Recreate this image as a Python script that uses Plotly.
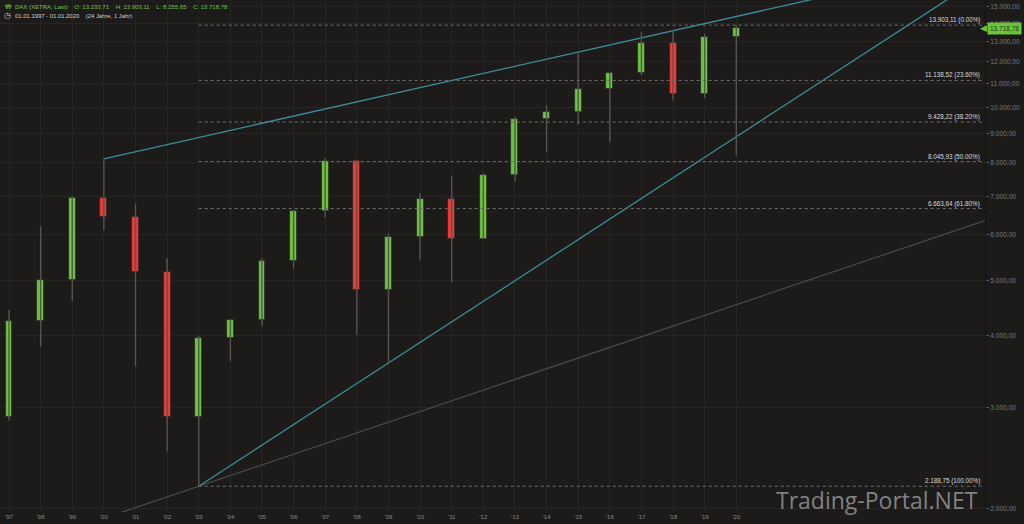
import math
import plotly.graph_objects as go

# ---------------- data ----------------
years = list(range(1997, 2021))
year_labels = ["'97", "'98", "'99", "'00", "'01", "'02", "'03", "'04", "'05", "'06", "'07", "'08",
               "'09", "'10", "'11", "'12", "'13", "'14", "'15", "'16", "'17", "'18", "'19", "'20"]
opens = [2888.69, 4249.69, 5002.39, 6958.14, 6433.61, 5160.10, 2892.63, 3965.16, 4256.08, 5408.26,
         6596.92, 8067.32, 4810.20, 5957.43, 6914.19, 5898.35, 7612.39, 9552.16, 9805.55, 10743.01,
         11481.06, 12917.64, 10558.96, 13233.71]
highs = [4438.93, 6217.83, 6992.00, 8136.16, 6795.14, 5467.31, 3996.00, 4272.00, 5458.00, 6629.00,
         8151.57, 8100.64, 6026.69, 7087.84, 7600.41, 7672.10, 9619.82, 10087.00, 12390.75, 11481.00,
         13525.56, 13596.89, 13425.00, 13903.11]
lows = [2848.00, 3833.71, 4600.00, 6110.00, 3539.18, 2519.30, 2188.75, 3618.00, 4157.00, 5243.00,
        6437.00, 4014.60, 3588.89, 5434.34, 4965.80, 5900.00, 7418.00, 8354.00, 9325.00, 8699.00,
        11384.00, 10279.00, 10386.00, 8255.65]
closes = [4249.69, 5002.39, 6958.14, 6433.61, 5160.10, 2892.63, 3965.16, 4256.08, 5408.26, 6596.92,
          8067.32, 4810.20, 5957.43, 6914.19, 5898.35, 7612.39, 9552.16, 9805.55, 10743.01, 11481.06,
          12917.64, 10558.96, 13249.01, 13718.78]

fib_levels = [13903.11, 11138.52, 9428.22, 8045.93, 6663.64, 2188.75]
fib_labels = ["13.903,11 (0.00%)", "11.138,52 (23.60%)", "9.428,22 (38.20%)",
              "8.045,93 (50.00%)", "6.663,64 (61.80%)", "2.188,75 (100.00%)"]
fib_start_year = 2003

# trend lines: two anchor points each (year, value)
upper_trend = [(2000, 8136.16), (2018, 13596.89)]
lower_trend = [(2003, 2188.75), (2009, 3588.89)]
gray_trend = [(2003, 2188.75), (2027.865, 6350.0)]

ytick_vals = [2000, 3000, 4000, 5000, 6000, 7000, 8000, 9000, 10000, 11000, 12000, 13000, 14000, 15000]
ytick_text = ["2.000,00", "3.000,00", "4.000,00", "5.000,00", "6.000,00", "7.000,00", "8.000,00",
              "9.000,00", "10.000,00", "11.000,00", "12.000,00", "13.000,00", "14.000,00", "15.000,00"]

GAP = "&nbsp;" * 4
header_line1 = GAP.join(["DAX (XETRA, Last)", "O: 13.233,71", "H: 13.903,11", "L: 8.255,65", "C: 13.718,78"])
header_line2 = "01.01.1997 - 01.01.2020&nbsp;&nbsp;&nbsp;&nbsp;(24 Jahre, 1 Jahr)"

last_price = 13718.78
last_label = "13.718,78"

X_MIN, X_MAX = 1996.715, 2027.865
Y_MIN, Y_MAX = 1974.0, 15378.0

BG = "#1c1b1a"
GREEN = "#6cc43a"
RED = "#ef3b36"
WICK = "#555555"
CYAN = "#3d8c9c"
GRID = "#262524"
SANS = "Liberation Sans"

fig = go.Figure()


def extend(p, xa, xb):
    (x0, v0), (x1, v1) = p
    s = (math.log10(v1) - math.log10(v0)) / (x1 - x0)
    return [xa, xb], [10 ** (math.log10(v0) + s * (xa - x0)), 10 ** (math.log10(v0) + s * (xb - x0))]


gx, gy = extend(gray_trend, X_MIN, X_MAX)
fig.add_trace(go.Scatter(x=gx, y=gy, mode="lines", line=dict(color="#4a4a4a", width=1.2),
                         hoverinfo="skip", showlegend=False))
ux, uy = extend(upper_trend, upper_trend[0][0], X_MAX)
fig.add_trace(go.Scatter(x=ux, y=uy, mode="lines", line=dict(color=CYAN, width=1.3),
                         hoverinfo="skip", showlegend=False))
lx, ly = extend(lower_trend, lower_trend[0][0], X_MAX)
fig.add_trace(go.Scatter(x=lx, y=ly, mode="lines", line=dict(color=CYAN, width=1.3),
                         hoverinfo="skip", showlegend=False))

# fibonacci retracement lines
for lvl, lab in zip(fib_levels, fib_labels):
    fig.add_trace(go.Scatter(x=[fib_start_year, X_MAX], y=[lvl, lvl], mode="lines",
                             line=dict(color="#707070", width=1, dash="dot"),
                             hoverinfo="skip", showlegend=False))
    fig.add_annotation(x=0.9967, xref="paper", xanchor="right", y=math.log10(lvl), yref="y",
                       yanchor="bottom", yshift=-1, text=lab, showarrow=False,
                       font=dict(size=6.3, color="#dadada", family=SANS))

# wicks
wx, wy = [], []
for x, h, l in zip(years, highs, lows):
    wx += [x, x, None]
    wy += [l, h, None]
fig.add_trace(go.Scatter(x=wx, y=wy, mode="lines", line=dict(color=WICK, width=1.4),
                         hoverinfo="skip", showlegend=False))

# candle bodies
base = [min(o, c) for o, c in zip(opens, closes)]
size = [abs(c - o) for o, c in zip(opens, closes)]
cols = [GREEN if c >= o else RED for o, c in zip(opens, closes)]
fig.add_trace(go.Bar(x=years, y=size, base=base, width=0.22,
                     marker=dict(color=cols, line=dict(color="#2a2a2a", width=0.8)), showlegend=False))

# header texts
fig.add_annotation(x=13 / 985, xref="paper", xanchor="left", y=1, yref="paper", yanchor="middle", yshift=-6.5,
                   text=header_line1, showarrow=False, font=dict(size=6, color=GREEN, family=SANS))
fig.add_annotation(x=2.5 / 985, xref="paper", xanchor="left", y=1, yref="paper", yanchor="middle", yshift=-6.5,
                   text="₩", showarrow=False, font=dict(size=6.5, color=GREEN, family="DejaVu Sans"))
fig.add_annotation(x=2 / 985, xref="paper", xanchor="left", y=1, yref="paper", yanchor="middle", yshift=-15.5,
                   text="◷", showarrow=False, font=dict(size=8, color="#d0d0d0", family="DejaVu Sans"))
fig.add_annotation(x=13 / 985, xref="paper", xanchor="left", y=1, yref="paper", yanchor="middle", yshift=-15.5,
                   text=header_line2, showarrow=False, font=dict(size=5.9, color="#d0d0d0", family=SANS))

# last price label
fig.add_annotation(x=1, xref="paper", xanchor="left", xshift=2, y=math.log10(last_price), yref="y",
                   text=last_label, showarrow=False, bgcolor=GREEN, borderpad=2,
                   font=dict(size=6.5, color="#1e3a10", family=SANS))
fig.add_annotation(x=1, xref="paper", xanchor="right", xshift=4, y=math.log10(last_price), yref="y",
                   text="◀", showarrow=False, font=dict(size=9, color=GREEN, family="DejaVu Sans"))

# watermark
fig.add_annotation(x=980 / 985, xref="paper", xanchor="right", y=0.0, yref="paper", yanchor="bottom", yshift=-6,
                   text="Trading-Portal.NET", showarrow=False,
                   font=dict(size=23, color="rgba(150,150,150,0.85)", family="Open Sans"))

fig.update_layout(
    width=1024, height=524,
    margin=dict(l=0, r=39, t=0, b=12),
    paper_bgcolor=BG, plot_bgcolor=BG,
    bargap=0, showlegend=False,
    xaxis=dict(range=[X_MIN, X_MAX], tickvals=years, ticktext=year_labels, showgrid=True,
               gridcolor=GRID, gridwidth=1, zeroline=False, ticks="", ticklen=0,
               tickfont=dict(size=6, color="#8a8a8a", family=SANS), showline=False),
    yaxis=dict(type="log", range=[math.log10(Y_MIN), math.log10(Y_MAX)], side="right",
               tickvals=ytick_vals, ticktext=ytick_text, showgrid=True, gridcolor=GRID,
               ticks="outside", ticklen=3, tickcolor="#555555",
               tickfont=dict(size=6.6, color="#7a7a7a", family=SANS),
               showline=True, linecolor="#111111", linewidth=1, zeroline=False),
)

fig.write_html("out.html", config={"displayModeBar": False},
               post_script="document.body.style.margin='0';")
